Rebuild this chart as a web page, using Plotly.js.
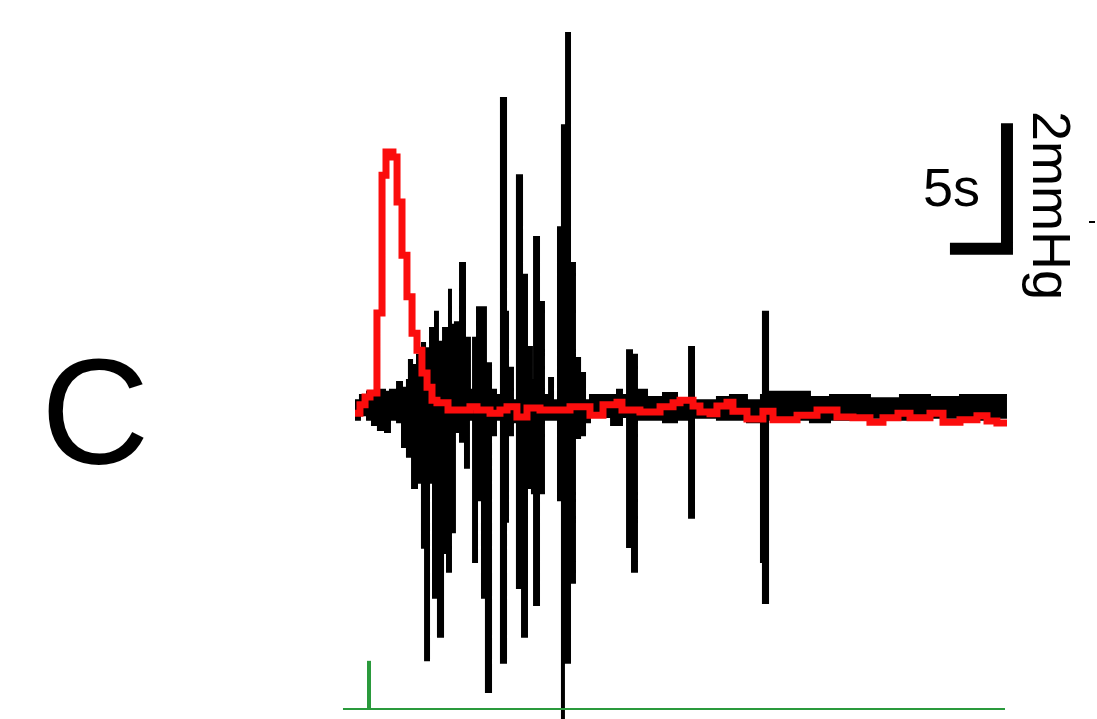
<!DOCTYPE html>
<html>
<head>
<meta charset="utf-8">
<script src="https://cdn.plot.ly/plotly-3.0.1.min.js"></script>
<style>
  html, body { margin: 0; padding: 0; background: #ffffff; }
  #chart { width: 1097px; height: 719px; }
</style>
</head>
<body>
<div id="chart"></div>
<script>
// ---- Data (time in s, pressure in mmHg relative to baseline) ----
// Black trace: fast pressure signal, drawn as upper/lower envelope per step
const blackT  = [0, 0.40, 0.97, 1.37, 1.85, 2.42, 2.82, 3.39, 3.79, 4.19, 4.35, 4.60, 5.00, 5.40, 5.65, 5.97, 6.05, 6.29, 6.45, 6.69, 7.10, 7.42, 7.58, 7.74, 8.06, 8.47, 8.87, 9.19, 9.27, 9.52, 9.84, 10.24, 10.56, 10.97, 11.37, 11.77, 12.18, 12.34, 12.74, 13.06, 13.47, 13.87, 14.27, 14.44, 14.84, 15.24, 15.65, 15.97, 16.37, 16.69, 16.85, 17.02, 17.34, 17.74, 18.15, 18.55, 18.95, 20.65, 21.13, 21.53, 21.94, 22.34, 22.74, 23.55, 24.84, 25.97, 26.94, 27.34, 29.19, 30.24, 31.61, 32.74, 32.90, 33.31, 35.08, 36.69, 38.31, 39.92, 41.53, 43.95, 46.37, 48.79, 51.21, 52.58];
const blackHi = [0.12, 0.20, 0.25, 0.25, 0.28, 0.25, 0.28, 0.40, 0.31, 0.43, 0.74, 0.66, 0.82, 1.00, 0.92, 0.92, 1.23, 1.23, 1.48, 1.02, 1.23, 1.23, 1.82, 1.28, 1.32, 2.23, 1.08, 1.08, 0.28, 1.08, 1.55, 1.55, 0.69, 0.28, 0.20, 4.77, 1.48, 0.62, 0.12, 3.58, 2.05, 0.94, 0.43, 2.63, 1.63, 0.20, 0.46, 0.12, 2.78, 4.35, 4.35, 5.77, 2.23, 0.77, 0.54, 0.12, 0.20, 0.20, 0.28, 0.20, 0.89, 0.82, 0.28, 0.17, 0.23, 0.15, 0.94, 0.12, 0.17, 0.20, 0.12, 0.20, 1.48, 0.25, 0.25, 0.17, 0.20, 0.20, 0.15, 0.20, 0.17, 0.20, 0.20, 0.20];
const blackLo = [-0.18, -0.11, -0.18, -0.26, -0.34, -0.37, -0.18, -0.22, -0.60, -0.75, -0.75, -1.23, -1.15, -2.15, -3.88, -1.15, -1.15, -2.92, -2.92, -3.52, -2.23, -2.52, -2.52, -1.91, -0.37, -0.52, -0.92, -0.18, -0.18, -2.37, -1.42, -2.92, -4.37, -0.42, -0.18, -3.92, -1.75, -0.42, -0.22, -2.77, -3.52, -1.23, -1.31, -3.03, -1.31, -0.18, -0.18, -0.18, -1.42, -4.78, -3.92, -3.92, -2.69, -0.46, -0.42, -0.22, -0.14, -0.26, -0.26, -0.14, -2.14, -2.52, -0.18, -0.18, -0.22, -0.18, -1.69, -0.15, -0.18, -0.18, -0.22, -2.37, -3.00, -0.18, -0.18, -0.22, -0.18, -0.18, -0.15, -0.18, -0.15, -0.18, -0.15, -0.15];

// Red trace: smoothed pressure
const redT = [0, 0.40, 0.81, 1.21, 1.77, 2.18, 2.50, 3.06, 3.39, 3.79, 4.19, 4.60, 5.00, 5.40, 5.81, 6.21, 6.61, 7.50, 9.27, 9.84, 10.89, 11.69, 12.26, 13.06, 13.87, 14.92, 17.34, 18.95, 20.00, 21.13, 21.53, 22.98, 24.60, 25.65, 26.21, 27.26, 27.82, 28.63, 29.19, 30.00, 30.48, 31.61, 32.90, 33.71, 35.65, 37.26, 38.87, 40.16, 41.53, 42.58, 43.79, 44.76, 46.37, 47.42, 48.79, 50.16, 50.97, 51.77, 52.58];
const redV = [-0.08, 0.05, 0.17, 0.23, 1.46, 3.58, 3.94, 3.86, 3.17, 2.35, 1.71, 1.15, 0.89, 0.54, 0.32, 0.12, 0.08, -0.03, 0.02, -0.03, -0.08, -0.03, 0.02, -0.14, 0.00, -0.03, 0.02, -0.11, 0.05, 0.09, -0.03, -0.06, 0.02, 0.08, 0.12, 0.03, -0.06, -0.09, 0.03, 0.09, -0.05, -0.17, -0.05, -0.18, -0.11, -0.03, -0.14, -0.15, -0.22, -0.15, -0.08, -0.15, -0.08, -0.22, -0.18, -0.12, -0.20, -0.23, -0.23];

// Green stimulus channel
const stimLineT = [-0.97, 52.42];
const stimLevel = -4.63;
const stimTimes = [1.13];
const stimHeight = 0.74;

// Scale bar (5 s, 2 mmHg)
const scaleLabelT = "5s";
const scaleLabelV = "2mmHg";
const scaleX = [47.98, 52.58, 52.58];
const scaleY = [2.45, 2.45, 4.38];

const panelLabel = "C";

// ---- Traces ----
const traces = [];
traces.push({
  x: blackT, y: blackHi, type: 'scatter', mode: 'lines',
  line: {color: '#000000', width: 2, shape: 'hv'}, hoverinfo: 'skip', showlegend: false
});
traces.push({
  x: blackT, y: blackLo, type: 'scatter', mode: 'lines', fill: 'tonexty', fillcolor: '#000000',
  line: {color: '#000000', width: 2, shape: 'hv'}, hoverinfo: 'skip', showlegend: false
});
traces.push({
  x: redT, y: redV, type: 'scatter', mode: 'lines',
  line: {color: '#fb0d0d', width: 7, shape: 'hv'}, hoverinfo: 'skip', showlegend: false
});
traces.push({
  x: stimLineT, y: [stimLevel, stimLevel], type: 'scatter', mode: 'lines',
  line: {color: '#2a9a3c', width: 2}, hoverinfo: 'skip', showlegend: false
});
stimTimes.forEach(function (t) {
  traces.push({
    x: [t, t], y: [stimLevel, stimLevel + stimHeight], type: 'scatter', mode: 'lines',
    line: {color: '#2a9a3c', width: 4}, hoverinfo: 'skip', showlegend: false
  });
});
traces.push({
  x: scaleX, y: scaleY, type: 'scatter', mode: 'lines',
  line: {color: '#000000', width: 12}, hoverinfo: 'skip', showlegend: false
});

const layout = {
  width: 1097, height: 719,
  margin: {l: 0, r: 0, t: 0, b: 0},
  paper_bgcolor: '#ffffff', plot_bgcolor: '#ffffff',
  showlegend: false,
  xaxis: {range: [-28.63, 59.84], visible: false, fixedrange: true},
  yaxis: {range: [-4.785, 6.277], visible: false, fixedrange: true},
  shapes: [
    {type: 'line', xref: 'paper', yref: 'paper', x0: 1089/1097, x1: 1095/1097,
     y0: 1 - 222/719, y1: 1 - 222/719, line: {color: '#000000', width: 2}}
  ],
  annotations: [
    {text: panelLabel, xref: 'paper', yref: 'paper', x: 95/1097, y: 1 - 412/719,
     xanchor: 'center', yanchor: 'middle', showarrow: false,
     font: {family: 'Liberation Sans, Arial, sans-serif', size: 150, color: '#000000'}},
    {text: scaleLabelT, xref: 'paper', yref: 'paper', x: 951/1097, y: 1 - 187/719,
     xanchor: 'center', yanchor: 'middle', showarrow: false,
     font: {family: 'Liberation Sans, Arial, sans-serif', size: 54, color: '#000000'}},
    {text: scaleLabelV, xref: 'paper', yref: 'paper', x: 1052/1097, y: 1 - 205/719,
     xanchor: 'center', yanchor: 'middle', showarrow: false, textangle: 90,
     font: {family: 'Liberation Sans, Arial, sans-serif', size: 54, color: '#000000'}}
  ]
};

Plotly.newPlot('chart', traces, layout, {staticPlot: true, displayModeBar: false});
</script>
</body>
</html>
